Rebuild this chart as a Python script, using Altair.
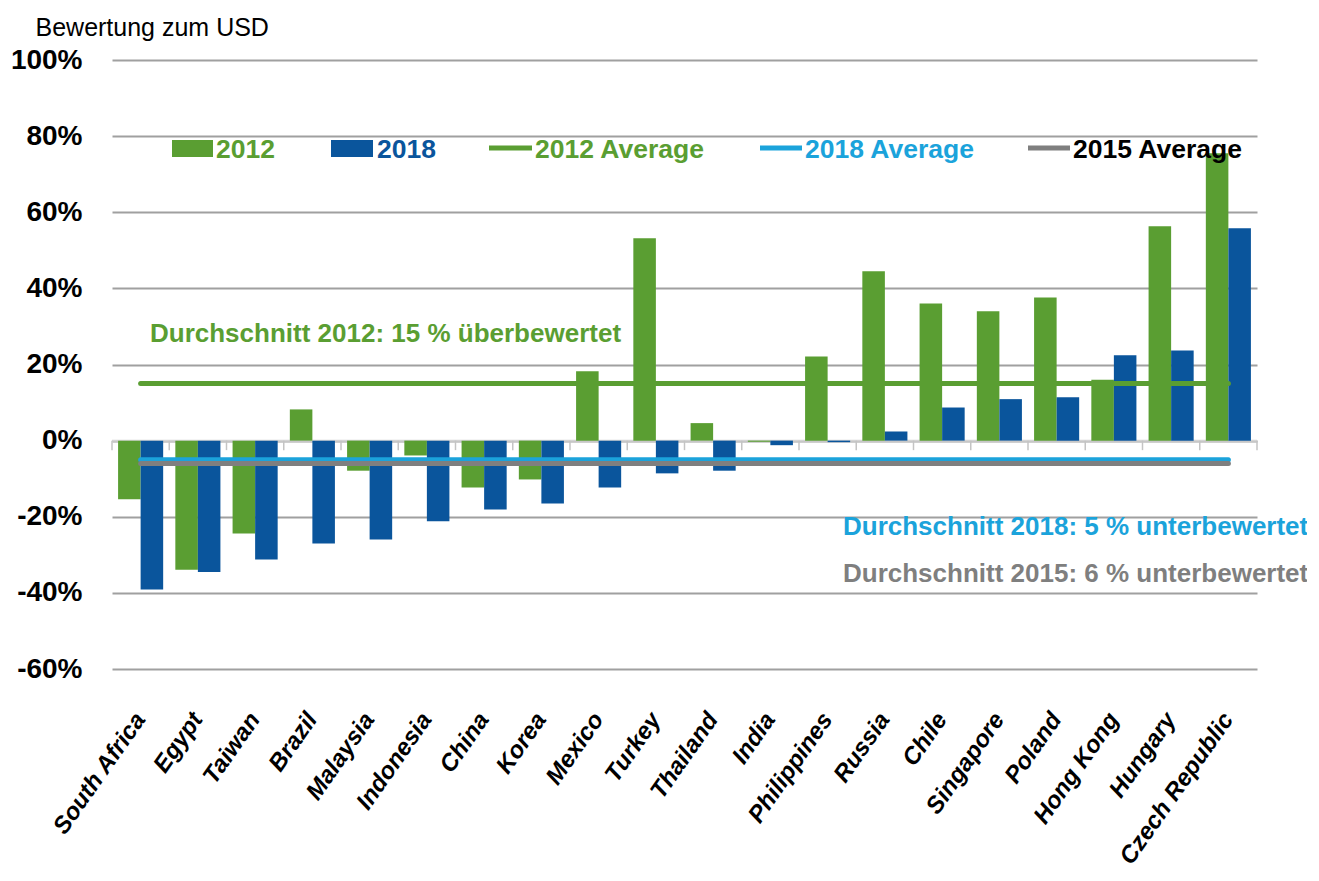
import altair as alt
import pandas as pd

countries = ["South Africa", "Egypt", "Taiwan", "Brazil", "Malaysia", "Indonesia",
             "China", "Korea", "Mexico", "Turkey", "Thailand", "India", "Philippines",
             "Russia", "Chile", "Singapore", "Poland", "Hong Kong", "Hungary",
             "Czech Republic"]
v2012 = [-15.4, -33.9, -24.4, 8.2, -7.9, -3.9, -12.3, -10.2, 18.2, 53.2, 4.6, -0.3,
         22.1, 44.5, 36.0, 34.0, 37.6, 16.0, 56.3, 75.5]
v2018 = [-39.1, -34.5, -31.2, -27.0, -26.0, -21.2, -18.1, -16.5, -12.3, -8.6, -7.9,
         -1.2, -0.4, 2.4, 8.7, 10.9, 11.4, 22.4, 23.7, 55.8]
series = ["2012", "2018"]
avg_names = ["2012 Average", "2018 Average", "2015 Average"]
avg_values = [15, -5, -6]
y_ticks = [-60, -40, -20, 0, 20, 40, 60, 80, 100]
notes = ["Durchschnitt 2012: 15 % überbewertet",
         "Durchschnitt 2018: 5 % unterbewertet",
         "Durchschnitt 2015: 6 % unterbewertet"]

GREEN = "#5a9e32"
BLUE = "#0a559c"
CYAN = "#1ba3db"
GRAY = "#7f7f7f"
FONT = "Liberation Sans, Arial, sans-serif"

rows = []
for c, a, b in zip(countries, v2012, v2018):
    rows.append({"country": c, "series": "2012", "value": a / 100})
    rows.append({"country": c, "series": "2018", "value": b / 100})
bars_df = pd.DataFrame(rows)

avg_rows = []
for n, v in zip(avg_names, avg_values):
    for c in (countries[0], countries[-1]):
        avg_rows.append({"name": n, "country": c, "value": v / 100})
avg_df = pd.DataFrame(avg_rows)

W, H = 1145, 609
xscale = alt.Scale(domain=countries, paddingInner=0, paddingOuter=0)
yscale = alt.Scale(domain=[-0.6, 1.0], nice=False, zero=False)
dummy = pd.DataFrame({"d": [0]})

x_axis = alt.Axis(title=None, labelAngle=-55, labelAlign="right",
                  labelBaseline="middle", labelFont=FONT, labelFontSize=24,
                  labelFontWeight="bold", labelFontStyle="italic",
                  labelColor="black", labelPadding=46, ticks=False,
                  domain=False, grid=False, labelOverlap=False)
y_axis = alt.Axis(values=[t / 100 for t in y_ticks],
                  labelExpr="(datum.value < 0 ? '-' : '') + format(abs(datum.value), '.0%')",
                  title="Bewertung zum USD", titleAngle=0, titleX=-77, titleY=-25,
                  titleAlign="left", titleBaseline="alphabetic", titleFont=FONT,
                  titleFontSize=25, titleFontWeight="normal", titleColor="black",
                  labelFont=FONT, labelFontSize=28, labelFontWeight="bold",
                  labelColor="black", labelPadding=30, ticks=False, domain=False,
                  grid=True, gridWidth=2, gridColor="#a0a0a0")

bars = alt.Chart(bars_df).mark_bar().encode(
    x=alt.X("country:N", sort=countries, scale=xscale, axis=x_axis),
    xOffset=alt.XOffset("series:N", sort=series,
                        scale=alt.Scale(domain=series, paddingInner=0, paddingOuter=0.27)),
    y=alt.Y("value:Q", scale=yscale, axis=y_axis),
    color=alt.Color("series:N", scale=alt.Scale(domain=series, range=[GREEN, BLUE]),
                    legend=None),
)

zero = alt.Chart(dummy).mark_rule(color="#d4d4d4", strokeWidth=2).encode(
    y=alt.Y("d:Q", scale=yscale, axis=y_axis), x=alt.value(0), x2=alt.value(W))

tick_df = pd.DataFrame({"country": countries, "v": [0.0] * len(countries)})
ticks = alt.Chart(tick_df).transform_calculate(v2="-0.025").mark_rule(
    color="#c4c4c4", strokeWidth=1.5).encode(
    x=alt.X("country:N", sort=countries, scale=xscale, bandPosition=0, axis=x_axis),
    y=alt.Y("v:Q", scale=yscale, axis=y_axis), y2="v2:Q")
last_tick = alt.Chart(tick_df.tail(1)).transform_calculate(v2="-0.025").mark_rule(
    color="#c4c4c4", strokeWidth=1.5).encode(
    x=alt.X("country:N", sort=countries, scale=xscale, bandPosition=1, axis=x_axis),
    y=alt.Y("v:Q", scale=yscale, axis=y_axis), y2="v2:Q")

avg = alt.Chart(avg_df).mark_line(strokeWidth=5, strokeCap="round").encode(
    x=alt.X("country:N", sort=countries, scale=xscale, axis=x_axis),
    y=alt.Y("value:Q", scale=yscale, axis=y_axis),
    stroke=alt.Stroke("name:N", scale=alt.Scale(domain=avg_names, range=[GREEN, CYAN, GRAY]),
                      legend=None),
    detail="name:N",
)

def txt(t, x, y, color, size=26, weight="bold"):
    return alt.Chart(dummy).mark_text(text=t, align="left", baseline="alphabetic",
                                      font=FONT, fontSize=size, fontWeight=weight,
                                      color=color).encode(x=alt.value(x), y=alt.value(y))

notes_layer = [
    txt(notes[0], 38, 282, GREEN),
    txt(notes[1], 731, 475, CYAN),
    txt(notes[2], 731, 522, GRAY),
]

def lrect(x1, x2, color):
    return alt.Chart(dummy).mark_rect(color=color).encode(
        x=alt.value(x1), x2=alt.value(x2), y=alt.value(80), y2=alt.value(97))

def lline(x1, x2, color):
    return alt.Chart(dummy).mark_rule(color=color, strokeWidth=5).encode(
        x=alt.value(x1), x2=alt.value(x2), y=alt.value(88))

LS = 26.5
legend_layer = [
    lrect(60, 101, GREEN), txt(series[0], 104, 98, GREEN, LS),
    lrect(219, 261, BLUE), txt(series[1], 265, 98, BLUE, LS),
    lline(377, 420, GREEN), txt(avg_names[0], 423, 98, GREEN, LS),
    lline(648, 690, CYAN), txt(avg_names[1], 693, 98, CYAN, LS),
    lline(916, 958, GRAY), txt(avg_names[2], 961, 98, "black", LS),
]

chart = alt.layer(zero, ticks, last_tick, bars, avg, *notes_layer, *legend_layer).properties(
    width=W, height=H,
    autosize=alt.AutoSizeParams(type="none"),
    padding={"left": 104, "top": 52, "right": 50, "bottom": 200},
    background="white",
).configure_view(stroke=None)

chart.save("out.html", embed_options={"renderer": "svg", "actions": False})
